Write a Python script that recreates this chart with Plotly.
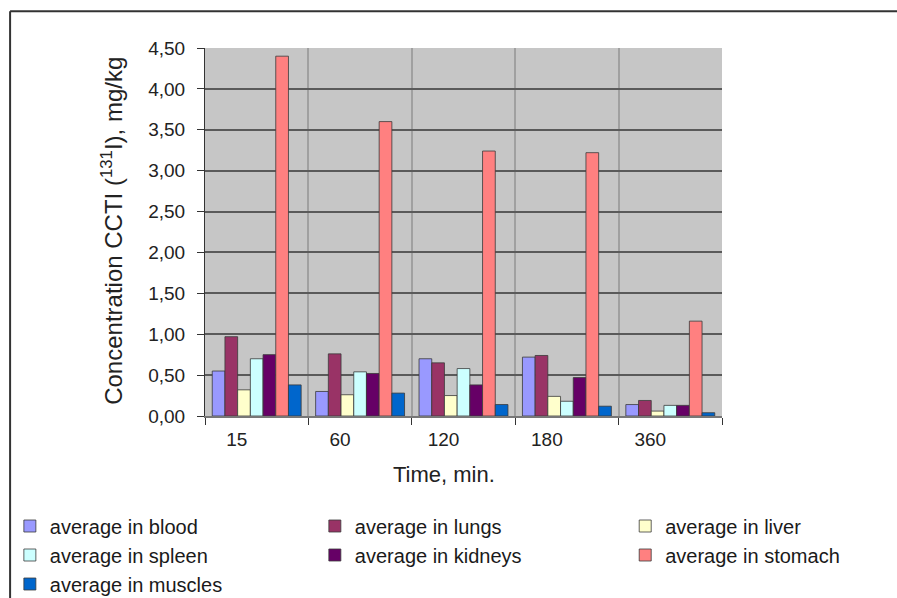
import plotly.graph_objects as go

times = ["15", "60", "120", "180", "360"]
blood = [0.55, 0.30, 0.70, 0.72, 0.14]
lungs = [0.97, 0.76, 0.65, 0.74, 0.19]
liver = [0.32, 0.26, 0.25, 0.24, 0.06]
spleen = [0.70, 0.54, 0.58, 0.18, 0.13]
kidneys = [0.75, 0.52, 0.38, 0.47, 0.13]
stomach = [4.40, 3.60, 3.24, 3.22, 1.16]
muscles = [0.38, 0.28, 0.14, 0.12, 0.04]

# (name, values, colour, legend column)
series = [
    ("average in blood", blood, "#9999FF", "legend"),
    ("average in lungs", lungs, "#993366", "legend2"),
    ("average in liver", liver, "#FFFFCC", "legend3"),
    ("average in spleen", spleen, "#CCFFFF", "legend"),
    ("average in kidneys", kidneys, "#660066", "legend2"),
    ("average in stomach", stomach, "#FF8080", "legend3"),
    ("average in muscles", muscles, "#0066CC", "legend"),
]

fig = go.Figure()
for name, vals, col, lg in series:
    fig.add_trace(go.Bar(
        x=times, y=vals, name=name, legend=lg,
        marker=dict(color=col, line=dict(color="#3A3A3A", width=0.8)),
    ))

legend_common = dict(
    orientation="v",
    xref="container", yref="container",
    yanchor="top", xanchor="left",
    font=dict(size=20, color="#1A1A1A"),
    itemwidth=30,
    tracegroupgap=0,
    bgcolor="rgba(0,0,0,0)",
)

fig.update_layout(
    width=897, height=598,
    margin=dict(l=205, r=175, t=48, b=182, autoexpand=False),
    paper_bgcolor="white",
    plot_bgcolor="#C6C6C6",
    separators=", ",
    barmode="group",
    bargap=0.14,
    bargroupgap=0.0,
    font=dict(family="Liberation Sans, Arial, sans-serif", size=19, color="#222222"),
    xaxis=dict(
        type="category",
        tickson="boundaries",
        ticks="outside", ticklen=7, tickcolor="#333333",
        showline=True, linecolor="#777777", linewidth=2,
        showgrid=True, gridcolor="#A0A0A0", gridwidth=2,
        ticklabelshift=-20,
        ticklabelstandoff=5,
        tickangle=0,
        automargin=False,
        tickfont=dict(size=19),
    ),
    yaxis=dict(
        range=[0, 4.5],
        dtick=0.5,
        tickformat=".2f",
        ticks="outside", ticklen=7, tickcolor="#333333",
        showline=True, linecolor="#333333", linewidth=1,
        gridcolor="#5A5A5A", gridwidth=1.5,
        zeroline=False,
        ticklabelstandoff=8,
        automargin=False,
        tickfont=dict(size=19),
    ),
    legend=dict(x=0.011, y=0.153, **legend_common),
    legend2=dict(x=0.351, y=0.153, **legend_common),
    legend3=dict(x=0.697, y=0.153, **legend_common),
    showlegend=True,
)

# Axis titles
fig.add_annotation(
    text="Time, min.", xref="paper", yref="paper",
    x=0.462, y=-0.158, xanchor="center", yanchor="middle",
    showarrow=False, font=dict(size=22, color="#222222"),
)
fig.add_annotation(
    text="Concentration CCTI (<sup>131</sup>I), mg/kg", xref="paper", yref="paper",
    x=-0.180, y=0.503, xanchor="center", yanchor="middle", textangle=-90,
    showarrow=False, font=dict(size=24, color="#222222"),
)

# Outer frame lines (top and left) like the reference picture border
fig.add_shape(type="line", xref="paper", yref="paper", x0=-0.377, x1=1.4, y0=1.1, y1=1.1,
              line=dict(color="#333333", width=2))
fig.add_shape(type="line", xref="paper", yref="paper", x0=-0.377, x1=-0.377, y0=1.1, y1=-0.5,
              line=dict(color="#333333", width=2))

fig.write_html("out.html")
